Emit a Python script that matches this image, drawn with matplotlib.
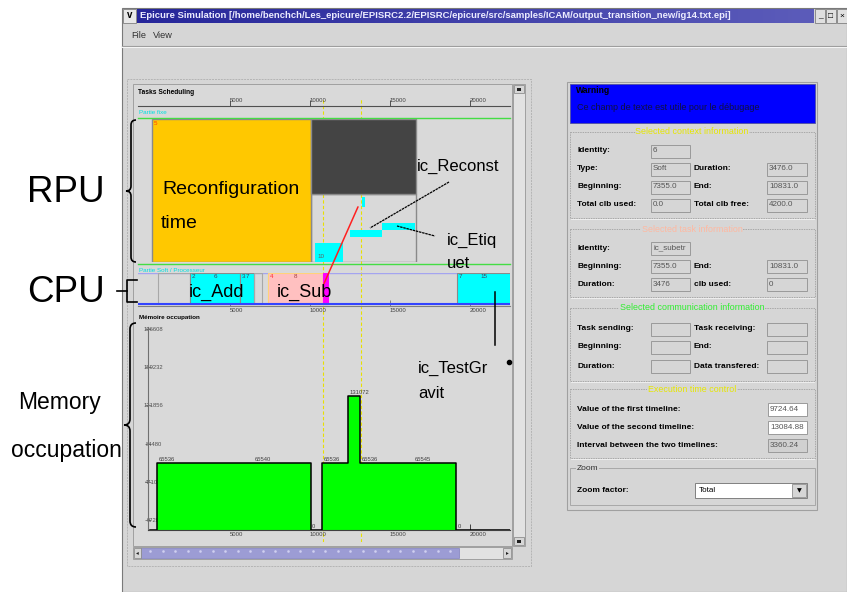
import numpy as np
import matplotlib
matplotlib.use("Agg")
import matplotlib.pyplot as plt
from matplotlib.patches import Rectangle, ConnectionPatch, PathPatch
from matplotlib.path import Path
from matplotlib.colors import LinearSegmentedColormap

plt.rcParams['font.family'] = ['Liberation Sans', 'DejaVu Sans']

W, H = 847, 592
X0, SC = 150.0, 0.016   # scheduling view: pixel = X0 + SC * t

# ---------------- data ----------------
time_ticks = [5000, 10000, 15000, 20000]
timelines = [10794, 13169]

clb_total = 4200
rpu_start = [100, 10060, 10060, 10310, 12500, 14500, 13250]
rpu_end = [10060, 16625, 16625, 12060, 14500, 16560, 13440]
rpu_low = [0, 2000, 0, 0, 735, 940, 1615]
rpu_high = [4200, 4200, 2000, 560, 940, 1145, 1910]
rpu_kind = ["reconf", "context", "free", "task", "task", "task", "task"]
rpu_id = ["5", "", "", "10", "", "", ""]

cpu_start = [500, 2500, 5625, 6500, 7355, 10831, 19190]
cpu_end = [2500, 5625, 6500, 7000, 10831, 11125, 23000]
cpu_kind = ["idle", "task", "task", "idle", "sub", "comm", "task"]
cpu_id1 = ["", "2", "3", "", "4", "", "7"]
cpu_id2 = ["", "6", "7", "", "8", "", "15"]

mem_t = [0, 440, 6440, 10060, 10750, 12375, 13125, 16440, 19125, 23000]
mem_v = [0, 65536, 65540, 0, 65536, 131072, 65536, 65545, 0, 0]
mem_ticks = [9728, 47104, 84480, 121856, 159232, 196608]

context_rows = [("Identity:", "6", None, None),
                ("Type:", "Soft", "Duration:", "3476.0"),
                ("Beginning:", "7355.0", "End:", "10831.0"),
                ("Total clb used:", "0.0", "Total clb free:", "4200.0")]
task_rows = [("Identity:", "ic_subetr", None, None),
             ("Beginning:", "7355.0", "End:", "10831.0"),
             ("Duration:", "3476", "clb used:", "0")]
comm_rows = [("Task sending:", "", "Task receiving:", ""),
             ("Beginning:", "", "End:", ""),
             ("Duration:", "", "Data transfered:", "")]
timeline_rows = [("Value of the first timeline:", "9724.64", "white"),
                 ("Value of the second timeline:", "13084.88", "white"),
                 ("Interval between the two timelines:", "3360.24", "#d0d0d0")]

face = {"reconf": "#ffc800", "context": "#444444", "free": "none",
        "task": "#00ffff", "sub": "#ffc0c0", "comm": "#ff00ff", "idle": "none"}
edge = {"reconf": "#8a8a8a", "context": "#8a8a8a", "free": "#8a8a8a",
        "task": "#8a8a8a", "sub": "#ffd27a", "comm": "#ff00ff", "idle": "#a8a8a8"}
GRAY = "#d6d6d6"

fig = plt.figure(figsize=(W / 100, H / 100), dpi=100)
fig.patch.set_facecolor("white")


def px_axes(x0, y0, x1, y1, z):
    ax = fig.add_axes([x0 / W, 1 - y1 / H, (x1 - x0) / W, (y1 - y0) / H], zorder=z)
    ax.patch.set_alpha(0)
    return ax


def tspan(x0, x1):
    return ((x0 - X0) / SC, (x1 - X0) / SC)


def rect(ax, x0, y0, x1, y1, **kw):
    ax.add_patch(Rectangle((x0, y0), x1 - x0, y1 - y0, **kw))


# ---------------- window chrome ----------------
ui = px_axes(0, 0, W, H, 0)
ui.set_xlim(0, W)
ui.set_ylim(H, 0)
ui.axis("off")

rect(ui, 122, 8, 847, 592, fc=GRAY, ec="#7a7a7a", lw=0.8)
cmap = LinearSegmentedColormap.from_list("title", ["#26269a", "#5c5cba"])
ui.imshow(np.linspace(0, 1, 256)[None, :], extent=(137, 814, 23, 9), cmap=cmap,
          aspect="auto", zorder=2)
rect(ui, 123, 9, 136, 23, fc="#e8e8e8", ec="#808080", lw=0.6, zorder=2)
ui.text(129.5, 15.5, "v", ha="center", va="center", fontsize=7, weight="bold", zorder=3)
ui.text(140, 16, "Epicure Simulation [/home/benchch/Les_epicure/EPISRC2.2/EPISRC/epicure/src/"
        "samples/ICAM/output_transition_new/ig14.txt.epi]",
        ha="left", va="center", fontsize=6.8, weight="bold", color="#ececff", zorder=3)
for i, g in enumerate(["_", "\u25a1", "\u00d7"]):
    bx = 815 + i * 11
    rect(ui, bx, 9, bx + 10, 23, fc="#e0e0e0", ec="#808080", lw=0.6, zorder=2)
    ui.text(bx + 5, 16, g, ha="center", va="center", fontsize=6, zorder=3)
ui.text(131, 35, "File", fontsize=6.6, va="center", color="#303030")
ui.text(153, 35, "View", fontsize=6.6, va="center", color="#303030")
ui.plot([122, 847], [46, 46], color="#9a9a9a", lw=0.8)
ui.plot([122, 847], [47.3, 47.3], color="#f4f4f4", lw=0.8)

# left panel
rect(ui, 127, 79, 531, 566, fc="none", ec="#b4b4b4", lw=0.7, ls=(0, (2, 1)))
rect(ui, 133, 84, 512, 546, fc="#d9d9d9", ec="#a0a0a0", lw=0.7)
rect(ui, 513, 84, 525, 546, fc="#e2e2e2", ec="#a0a0a0", lw=0.7)
rect(ui, 514, 85, 524, 93, fc=GRAY, ec="#808080", lw=0.5)
rect(ui, 517, 87.5, 521, 90.5, fc="#202020", ec="none")
rect(ui, 514, 537, 524, 545, fc=GRAY, ec="#808080", lw=0.5)
rect(ui, 517, 540, 521, 542.5, fc="#202020", ec="none")
rect(ui, 133, 547, 512, 559, fc="#e2e2e2", ec="#a0a0a0", lw=0.7)
rect(ui, 141, 548, 459, 558, fc="#9c9cd4", ec="#8080c0", lw=0.5)
rect(ui, 134, 548, 141, 558, fc=GRAY, ec="#808080", lw=0.5)
rect(ui, 503, 548, 511, 558, fc=GRAY, ec="#808080", lw=0.5)
ui.text(137.5, 553, "\u25c2", ha="center", va="center", fontsize=4, color="#202020")
ui.text(507, 553, "\u25b8", ha="center", va="center", fontsize=4, color="#202020")
dots = np.arange(150, 455, 12.5)
ui.plot(dots, [551] * len(dots), ls="none", marker="s", ms=0.8, color="#d0d0f0")

ui.text(138, 93, "Tasks Scheduling", fontsize=4.8, weight="bold", va="center")
ui.text(139, 113, "Partie fixe", fontsize=4.5, color="#00e0e0", va="center")
ui.text(139, 270, "Partie Soft / Processeur", fontsize=4.5, color="#00e0e0", va="center")
ui.text(139, 318, "M\u00e9moire occupation", fontsize=4.5, weight="bold", va="center")

# right panel
rect(ui, 567, 82, 817, 510, fc=GRAY, ec="#a0a0a0", lw=0.8)
rect(ui, 570, 84, 815, 123, fc="#0000ff", ec="#5050a0", lw=0.6)
ui.text(576, 90.5, "Warning", fontsize=6.2, weight="bold", va="center")
ui.text(577, 108, "Ce champ de texte est utile pour le d\u00e9bugage", fontsize=6.5,
        va="center", color="#101040")

groups = [(132, 218, "Selected context information", "#e6e600"),
          (229, 297, "Selected task information", "#ffb8a0"),
          (308, 381, "Selected communication information", "#30ee30"),
          (389, 458, "Execution time control", "#e6e600")]
for top, bot, title, col in groups:
    rect(ui, 570, top, 815, bot, fc="none", ec="#a8a8a8", lw=0.7, ls=(0, (1.5, 1)))
    ui.plot([571, 814], [bot + 1.2, bot + 1.2], color="#f2f2f2", lw=0.6)
    ui.text(692, top, title, ha="center", va="center", fontsize=6.4, color=col,
            bbox=dict(fc=GRAY, ec="none", pad=0.6))
rect(ui, 570, 468, 815, 505, fc="none", ec="#a8a8a8", lw=0.7)
ui.text(577, 468, "Zoom", ha="left", va="center", fontsize=6, color="#303030",
        bbox=dict(fc=GRAY, ec="none", pad=0.6))


def field(x0, x1, yc, text, fc=GRAY):
    rect(ui, x0, yc - 6.5, x1, yc + 6.5, fc=fc, ec="#9a9a9a", lw=0.7, zorder=3)
    ui.text(x0 + 2, yc, text, ha="left", va="center", fontsize=5.8, color="#555555", zorder=4)


def rows(data, ys):
    for (l1, v1, l2, v2), y in zip(data, ys):
        ui.text(577, y, l1, fontsize=6, weight="bold", va="center")
        field(651, 690, y, v1)
        if l2 is not None:
            ui.text(694, y, l2, fontsize=6, weight="bold", va="center")
            field(767, 807, y, v2)


rows(context_rows, [151, 169, 187, 205])
rows(task_rows, [248, 266, 284])
rows(comm_rows, [329, 347, 366])
for (lab, val, fc), y in zip(timeline_rows, [409.5, 427.5, 445.5]):
    ui.text(577, y, lab, fontsize=6, weight="bold", va="center")
    field(768, 807, y, val, fc=fc)
ui.text(577, 491, "Zoom factor:", fontsize=6, weight="bold", va="center")
rect(ui, 695, 483, 807, 498, fc="white", ec="#808080", lw=0.7)
ui.text(699, 490.5, "Total", fontsize=5.8, va="center")
rect(ui, 792, 484, 806, 497, fc=GRAY, ec="#909090", lw=0.6)
ui.text(799, 490.5, "\u25bc", ha="center", va="center", fontsize=4.5, family="DejaVu Sans")

# ---------------- timelines (behind the charts) ----------------
ax_tl = px_axes(138, 98, 510, 542, 1)
ax_tl.set_xlim(*tspan(138, 510))
ax_tl.set_ylim(0, 1)
ax_tl.axis("off")
for t in timelines:
    ax_tl.axvline(t, color="#e8e000", lw=0.8, ls=(0, (3, 2)))


def time_scale(ax, pad, color="#505050"):
    ax.set_xticks(time_ticks)
    ax.set_xticklabels([str(t) for t in time_ticks])
    ax.tick_params(axis="x", direction="in", length=4, width=0.7, color=color,
                   labelsize=4.3, labelcolor="#404040", pad=pad)
    for lab in ax.get_xticklabels():
        lab.set_ha("left")


# top time scale
ax_sc = px_axes(138, 96, 510, 106, 2)
ax_sc.set_xlim(*tspan(138, 510))
ax_sc.set_ylim(0, 1)
for s in ["top", "left", "right"]:
    ax_sc.spines[s].set_visible(False)
ax_sc.spines["bottom"].set_color("#505050")
ax_sc.set_yticks([])
time_scale(ax_sc, pad=-6)

# ---------------- RPU ----------------
ax_rpu = px_axes(138, 119, 510, 262, 2)
ax_rpu.set_xlim(*tspan(138, 510))
ax_rpu.set_ylim(0, clb_total)
ax_rpu.axis("off")
ax_rpu.axhline(clb_total + 40, color="#44dd44", lw=1, zorder=0.5, clip_on=False)
ax_rpu.axhline(-70, color="#44dd44", lw=1, zorder=0.5, clip_on=False)
for s, e, lo, hi, k, tid in zip(rpu_start, rpu_end, rpu_low, rpu_high, rpu_kind, rpu_id):
    ax_rpu.bar(s, hi - lo, width=e - s, bottom=lo, align="edge", color=face[k],
               edgecolor="none" if k == "task" else edge[k], lw=1, zorder=2 if k != "free" else 1)
    if tid:
        ax_rpu.text(s + 150, hi - 60 if k == "reconf" else lo + 100, tid, fontsize=4.5,
                    ha="left", va="top" if k == "reconf" else "bottom",
                    color="#ff4000" if k == "reconf" else "#606060", zorder=3)

# ---------------- CPU ----------------
ax_cpu = px_axes(138, 273, 510, 306, 2)
ax_cpu.set_xlim(*tspan(138, 510))
ax_cpu.set_ylim(-2 / 31, 1)
for s in ["top", "left", "right"]:
    ax_cpu.spines[s].set_visible(False)
ax_cpu.spines["bottom"].set_color("#808080")
ax_cpu.set_yticks([])
time_scale(ax_cpu, pad=1.5, color="#808080")
ax_cpu.axhline(1, color="#a4a4f0", lw=1, zorder=1)
for s, e, k, i1, i2 in zip(cpu_start, cpu_end, cpu_kind, cpu_id1, cpu_id2):
    ax_cpu.bar(s, 1, width=e - s, bottom=0, align="edge", color=face[k],
               edgecolor=edge[k], lw=0.8, zorder=2)
    if i1:
        c = "#ff3030" if k == "sub" else "#404060"
        ax_cpu.text(s + 120, 0.96, i1, fontsize=4.5, ha="left", va="top", color=c, zorder=3)
        ax_cpu.text((s + min(e, 22500)) / 2, 0.96, i2, fontsize=4.5, ha="center", va="top",
                    color="#a04040" if k == "sub" else "#404060", zorder=3)
ax_cpu.axhline(0, color="#3344ff", lw=1.5, zorder=3)

# ---------------- memory ----------------
ax_mem = px_axes(148, 327, 510, 530, 2)
ax_mem.set_xlim(*tspan(148, 510))
ax_mem.set_ylim(0, (530 - 327) * 65536 / 67)
for s in ["top", "right"]:
    ax_mem.spines[s].set_visible(False)
ax_mem.spines["bottom"].set_color("#404040")
ax_mem.spines["left"].set_color("#707070")
time_scale(ax_mem, pad=1.5, color="#404040")
ax_mem.set_yticks(mem_ticks)
ax_mem.set_yticklabels([str(v) for v in mem_ticks])
ax_mem.tick_params(axis="y", direction="inout", length=4, width=0.6, color="#707070",
                   labelsize=4.2, labelcolor="#505050", pad=-6)
for lab in ax_mem.get_yticklabels():
    lab.set_ha("center")
ax_mem.fill_between(mem_t, mem_v, step="post", color="#00ff00", lw=0, zorder=2)
ax_mem.step(mem_t, mem_v, where="post", color="black", lw=1.1, zorder=3)
for t, v in zip(mem_t[1:-1], mem_v[1:-1]):
    ax_mem.text(t + 80, v + 1200, str(v), fontsize=4.2, ha="left", va="bottom",
                color="#404040", zorder=4)

# communication arrow RPU task -> CPU
con = ConnectionPatch(xyA=(13000, 1620), coordsA=ax_rpu.transData,
                      xyB=(10875, 0.66), coordsB=ax_cpu.transData,
                      color="#ff2020", lw=1.1, zorder=6)
fig.add_artist(con)

# ---------------- hand-made annotations ----------------
ov = px_axes(0, 0, W, H, 5)
ov.set_xlim(0, W)
ov.set_ylim(H, 0)
ov.axis("off")


def brace(x, y0, y1, d):
    ym = (y0 + y1) / 2
    verts = [(x + d, y0), (x, y0), (x, y0 + d), (x, ym - d), (x, ym), (x - d, ym),
             (x, ym), (x, ym + d), (x, y1 - d), (x, y1), (x + d, y1)]
    codes = [Path.MOVETO, Path.CURVE3, Path.CURVE3, Path.LINETO, Path.CURVE3, Path.CURVE3,
             Path.CURVE3, Path.CURVE3, Path.LINETO, Path.CURVE3, Path.CURVE3]
    ov.add_patch(PathPatch(Path(verts, codes), fc="none", ec="black", lw=1.2))


brace(131, 120, 262, 5)
brace(130, 323, 527, 6)
ov.plot([137, 127, 127, 137], [280, 280, 302, 302], color="black", lw=1.2)
ov.plot([117, 127], [291, 291], color="black", lw=1.2)

big = dict(family="Liberation Sans", color="black", va="center")
ov.text(27, 192, "RPU", fontsize=26.5, **big)
ov.text(27, 292, "CPU", fontsize=26.5, **big)
ov.text(18, 403, "Memory", fontsize=16.5, **big)
ov.text(11, 450, "occupation", fontsize=16.5, **big)
ov.text(162, 190, "Reconfiguration", fontsize=14, **big)
ov.text(161, 224, "time", fontsize=14, **big)
ov.text(189, 292, "ic_Add", fontsize=13, **big)
ov.text(277, 292, "ic_Sub", fontsize=13, **big)
ov.text(417, 166, "ic_Reconst", fontsize=12, **big)
ov.text(447, 240, "ic_Etiq", fontsize=12, **big)
ov.text(447, 263, "uet", fontsize=12, **big)
ov.text(418, 368, "ic_TestGr", fontsize=12, **big)
ov.text(418, 393, "avit", fontsize=12, **big)
ov.plot([449, 370], [182, 228], color="black", lw=0.9, ls=(0, (2, 0.6)))
ov.plot([397, 435], [226, 236], color="black", lw=0.9, ls=(0, (2, 0.6)))
ov.plot([495, 495], [292, 345], color="black", lw=1.1)
ov.plot([509], [362], marker="o", ms=3, color="black")

fig.savefig("out.png", dpi=100)
